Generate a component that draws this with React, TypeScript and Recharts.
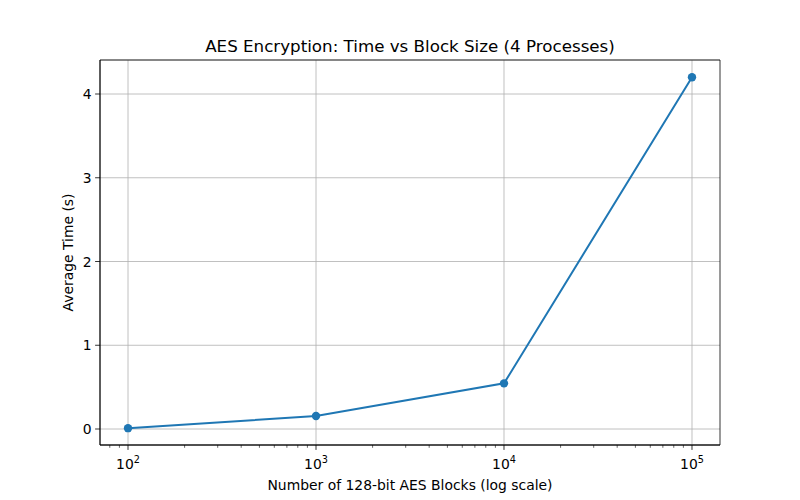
import { LineChart, Line, XAxis, YAxis, CartesianGrid, ReferenceArea } from 'recharts';

const blockCounts = [100, 1000, 10000, 100000];
const avgTimes = [0.01, 0.155, 0.545, 4.2];

const majorTicks = [100, 1000, 10000, 100000];
const majorExponents = ['2', '3', '4', '5'];
const minorTicks = [
  80, 90,
  200, 300, 400, 500, 600, 700, 800, 900,
  2000, 3000, 4000, 5000, 6000, 7000, 8000, 9000,
  20000, 30000, 40000, 50000, 60000, 70000, 80000, 90000,
];
const yTicks = [0, 1, 2, 3, 4];

const xDomain: [number, number] = [Math.pow(10, 1.851), Math.pow(10, 5.149)];
const yDomain: [number, number] = [-0.191, 4.406];

const data = blockCounts.map((n, i) => ({ blocks: n, time: avgTimes[i] }));

const FONT = 'DejaVu Sans, sans-serif';

// log-scale position of a value inside the plot area (for the grid lines)
const logX = (v: number, left: number, width: number) => {
  const a = Math.log10(xDomain[0]);
  const b = Math.log10(xDomain[1]);
  return left + ((Math.log10(v) - a) / (b - a)) * width;
};

const XTick = (props: any) => {
  const { x, y, payload } = props;
  const idx = majorTicks.indexOf(payload.value);
  if (idx < 0) {
    return <line x1={x} x2={x} y1={y} y2={y + 2.8} stroke="#000" strokeWidth={0.6} />;
  }
  return (
    <g>
      <line x1={x} x2={x} y1={y} y2={y + 4.9} stroke="#000" strokeWidth={0.8} />
      <text x={x} y={y + 24} textAnchor="middle" fontSize={13.9} fontFamily={FONT} fill="#000">
        10
        <tspan dy={-6} fontSize={9.7}>{majorExponents[idx]}</tspan>
      </text>
    </g>
  );
};

const YTick = (props: any) => {
  const { x, y, payload } = props;
  return (
    <g>
      <line x1={x} x2={x - 4.9} y1={y} y2={y} stroke="#000" strokeWidth={0.8} />
      <text x={x - 8.5} y={y + 5} textAnchor="end" fontSize={13.9} fontFamily={FONT} fill="#000">
        {payload.value}
      </text>
    </g>
  );
};

export default function App() {
  return (
    <div style={{ position: 'absolute', left: 0, top: 0, width: 800, height: 500, background: '#fff' }}>
      <svg width={800} height={500} style={{ position: 'absolute', left: 0, top: 0, pointerEvents: 'none' }}>
        <text x={410} y={52} textAnchor="middle" fontSize={16.7} fontFamily={FONT} fill="#000">
          AES Encryption: Time vs Block Size (4 Processes)
        </text>
        <text x={410} y={490} textAnchor="middle" fontSize={13.9} fontFamily={FONT} fill="#000">
          Number of 128-bit AES Blocks (log scale)
        </text>
        <text
          x={73}
          y={252.5}
          textAnchor="middle"
          fontSize={13.9}
          fontFamily={FONT}
          fill="#000"
          transform="rotate(-90 73 252.5)"
        >
          Average Time (s)
        </text>
      </svg>
      <div style={{ position: 'absolute', left: 0, top: 0 }}>
        <LineChart width={800} height={500} data={data} margin={{ top: 60, right: 80, bottom: 0, left: 0 }}>
          <CartesianGrid
            stroke="#b0b0b0"
            strokeWidth={0.8}
            verticalCoordinatesGenerator={({ offset }: any) =>
              majorTicks.map((v) => logX(v, offset.left, offset.width))
            }
          />
          <XAxis
            dataKey="blocks"
            type="number"
            scale="log"
            domain={xDomain}
            allowDataOverflow
            ticks={[...majorTicks, ...minorTicks].sort((a, b) => a - b)}
            interval={0}
            height={55}
            tick={<XTick />}
            tickLine={false}
            tickSize={0}
            tickMargin={0}
            axisLine={{ stroke: '#000', strokeWidth: 0.8 }}
          />
          <YAxis
            type="number"
            domain={yDomain}
            allowDataOverflow
            ticks={yTicks}
            width={100}
            tick={<YTick />}
            tickLine={false}
            tickSize={0}
            tickMargin={0}
            axisLine={{ stroke: '#000', strokeWidth: 0.8 }}
          />
          <ReferenceArea
            x1={xDomain[0]}
            x2={xDomain[1]}
            y1={yDomain[0]}
            y2={yDomain[1]}
            fill="none"
            fillOpacity={0}
            stroke="#000"
            strokeWidth={0.8}
            ifOverflow="visible"
          />
          <Line
            dataKey="time"
            stroke="#1f77b4"
            strokeWidth={2}
            dot={{ r: 4.2, fill: '#1f77b4', stroke: '#1f77b4', strokeWidth: 0 }}
            isAnimationActive={false}
          />
        </LineChart>
      </div>
    </div>
  );
}
